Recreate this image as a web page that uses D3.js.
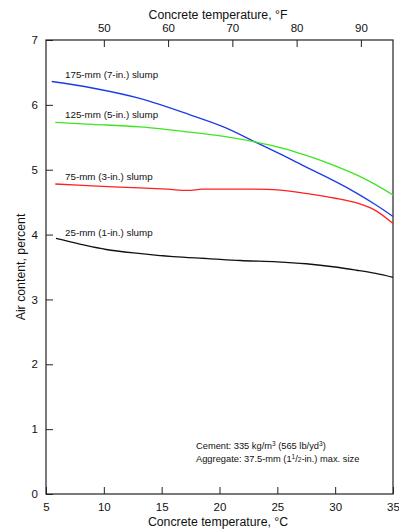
<!DOCTYPE html>
<html>
<head>
<meta charset="utf-8">
<script src="https://cdn.jsdelivr.net/npm/d3@7"></script>
<style>
  body { margin: 0; background: #fff; }
  text { font-family: "Liberation Sans", Arial, sans-serif; fill: #111; }
</style>
</head>
<body>
<script>
var w = 399, h = 531;
var plotL = 46, plotR = 393, plotT = 40, plotB = 494;

// temperatures (°C) where the curves were read
var temps175 = [5.5, 9, 13.1, 17.4, 20.5, 23.06, 25.5, 27.5, 30, 31.85, 33.5, 35];
var air175   = [6.36, 6.26, 6.10, 5.85, 5.65, 5.43, 5.22, 5.04, 4.82, 4.64, 4.46, 4.28];

var temps125 = [5.8, 9, 13.1, 17.4, 20.5, 23.06, 25.5, 27.5, 30, 31.85, 33.5, 35];
var air125   = [5.73, 5.70, 5.66, 5.58, 5.51, 5.43, 5.33, 5.22, 5.06, 4.92, 4.77, 4.61];

var temps75 = [5.8, 9, 13.1, 15.5, 17.2, 18.5, 20, 25, 28, 30, 32, 33.5, 35];
var air75   = [4.78, 4.75, 4.72, 4.70, 4.68, 4.70, 4.70, 4.69, 4.62, 4.56, 4.48, 4.37, 4.17];

var temps25 = [5.86, 8, 10.2, 13, 16, 19, 21.8, 25, 27.5, 30, 31.85, 33.5, 35];
var air25   = [3.94, 3.85, 3.77, 3.71, 3.66, 3.63, 3.60, 3.58, 3.55, 3.50, 3.45, 3.40, 3.34];

var seriesNames = ["175-mm (7-in.) slump", "125-mm (5-in.) slump", "75-mm (3-in.) slump", "25-mm (1-in.) slump"];
var seriesColors = ["#1a3ce6", "#3ce61e", "#ff2020", "#111111"];

var cTicks = [5, 10, 15, 20, 25, 30, 35];
var fTicks = [50, 60, 70, 80, 90];
var yTicks = [0, 1, 2, 3, 4, 5, 6, 7];

var series = [
  { name: seriesNames[0], color: seriesColors[0], t: temps175, a: air175, lx: 65, ly: 78 },
  { name: seriesNames[1], color: seriesColors[1], t: temps125, a: air125, lx: 65, ly: 118 },
  { name: seriesNames[2], color: seriesColors[2], t: temps75,  a: air75,  lx: 65, ly: 180 },
  { name: seriesNames[3], color: seriesColors[3], t: temps25,  a: air25,  lx: 65, ly: 236 }
];

var svg = d3.select("body").append("svg")
  .attr("width", w)
  .attr("height", h);

var x = d3.scaleLinear().domain([5, 35]).range([plotL, plotR]);
var xf = d3.scaleLinear().domain([41, 95]).range([plotL, plotR]);
var y = d3.scaleLinear().domain([0, 7]).range([plotB, plotT]);

// axes with inward ticks
var xAxis = svg.append("g")
  .attr("transform", "translate(0," + plotB + ")")
  .call(d3.axisBottom(x).tickValues(cTicks).tickSize(-7).tickPadding(9));

var fAxis = svg.append("g")
  .attr("transform", "translate(0," + plotT + ")")
  .call(d3.axisTop(xf).tickValues(fTicks).tickSize(-7).tickPadding(8));

var yAxis = svg.append("g")
  .attr("transform", "translate(" + plotL + ",0)")
  .call(d3.axisLeft(y).tickValues(yTicks).tickFormat(d3.format("d")).tickSize(-7).tickPadding(8));

[xAxis, fAxis, yAxis].forEach(function(g) {
  g.select(".domain").remove();
  g.selectAll("line").attr("stroke", "#222");
  g.selectAll("text").style("font-size", "11.5px").attr("fill", "#111");
});

// frame
svg.append("rect")
  .attr("x", plotL)
  .attr("y", plotT)
  .attr("width", plotR - plotL)
  .attr("height", plotB - plotT)
  .attr("fill", "none")
  .attr("stroke", "#222")
  .attr("stroke-width", 1.2);

var line = d3.line()
  .x(function(d) { return x(d[0]); })
  .y(function(d) { return y(d[1]); })
  .curve(d3.curveCatmullRom.alpha(0.5));

svg.selectAll(".curve")
  .data(series)
  .enter()
  .append("path")
  .attr("class", "curve")
  .attr("fill", "none")
  .attr("stroke", function(d) { return d.color; })
  .attr("stroke-width", 1.3)
  .attr("d", function(d) {
    return line(d.t.map(function(t, i) { return [t, d.a[i]]; }));
  });

svg.selectAll(".labels")
  .data(series)
  .enter()
  .append("text")
  .attr("class", "labels")
  .attr("x", function(d) { return d.lx; })
  .attr("y", function(d) { return d.ly; })
  .style("font-size", "9.8px")
  .text(function(d) { return d.name; });

// axis titles
svg.append("text")
  .attr("x", 218)
  .attr("y", 19)
  .attr("text-anchor", "middle")
  .style("font-size", "12.3px")
  .text("Concrete temperature, °F");

svg.append("text")
  .attr("x", 218)
  .attr("y", 526)
  .attr("text-anchor", "middle")
  .style("font-size", "12.3px")
  .text("Concrete temperature, °C");

svg.append("text")
  .attr("transform", "translate(25," + ((plotT + plotB) / 2) + ") rotate(-90)")
  .attr("text-anchor", "middle")
  .style("font-size", "12.3px")
  .text("Air content, percent");

// note
var note = svg.append("text")
  .attr("x", 196)
  .attr("y", 449)
  .style("font-size", "9.3px");
note.append("tspan").text("Cement: 335 kg/m");
note.append("tspan").attr("dy", -3.5).style("font-size", "6.5px").text("3");
note.append("tspan").attr("dy", 3.5).text(" (565 lb/yd");
note.append("tspan").attr("dy", -3.5).style("font-size", "6.5px").text("3");
note.append("tspan").attr("dy", 3.5).text(")");

var note2 = svg.append("text")
  .attr("x", 196)
  .attr("y", 462)
  .style("font-size", "9.3px");
note2.append("tspan").text("Aggregate: 37.5-mm (1");
note2.append("tspan").attr("dy", -3.5).style("font-size", "6.5px").text("1");
note2.append("tspan").attr("dy", 3.5).text("/");
note2.append("tspan").style("font-size", "6.5px").text("2");
note2.append("tspan").text("-in.) max. size");
</script>
</body>
</html>
